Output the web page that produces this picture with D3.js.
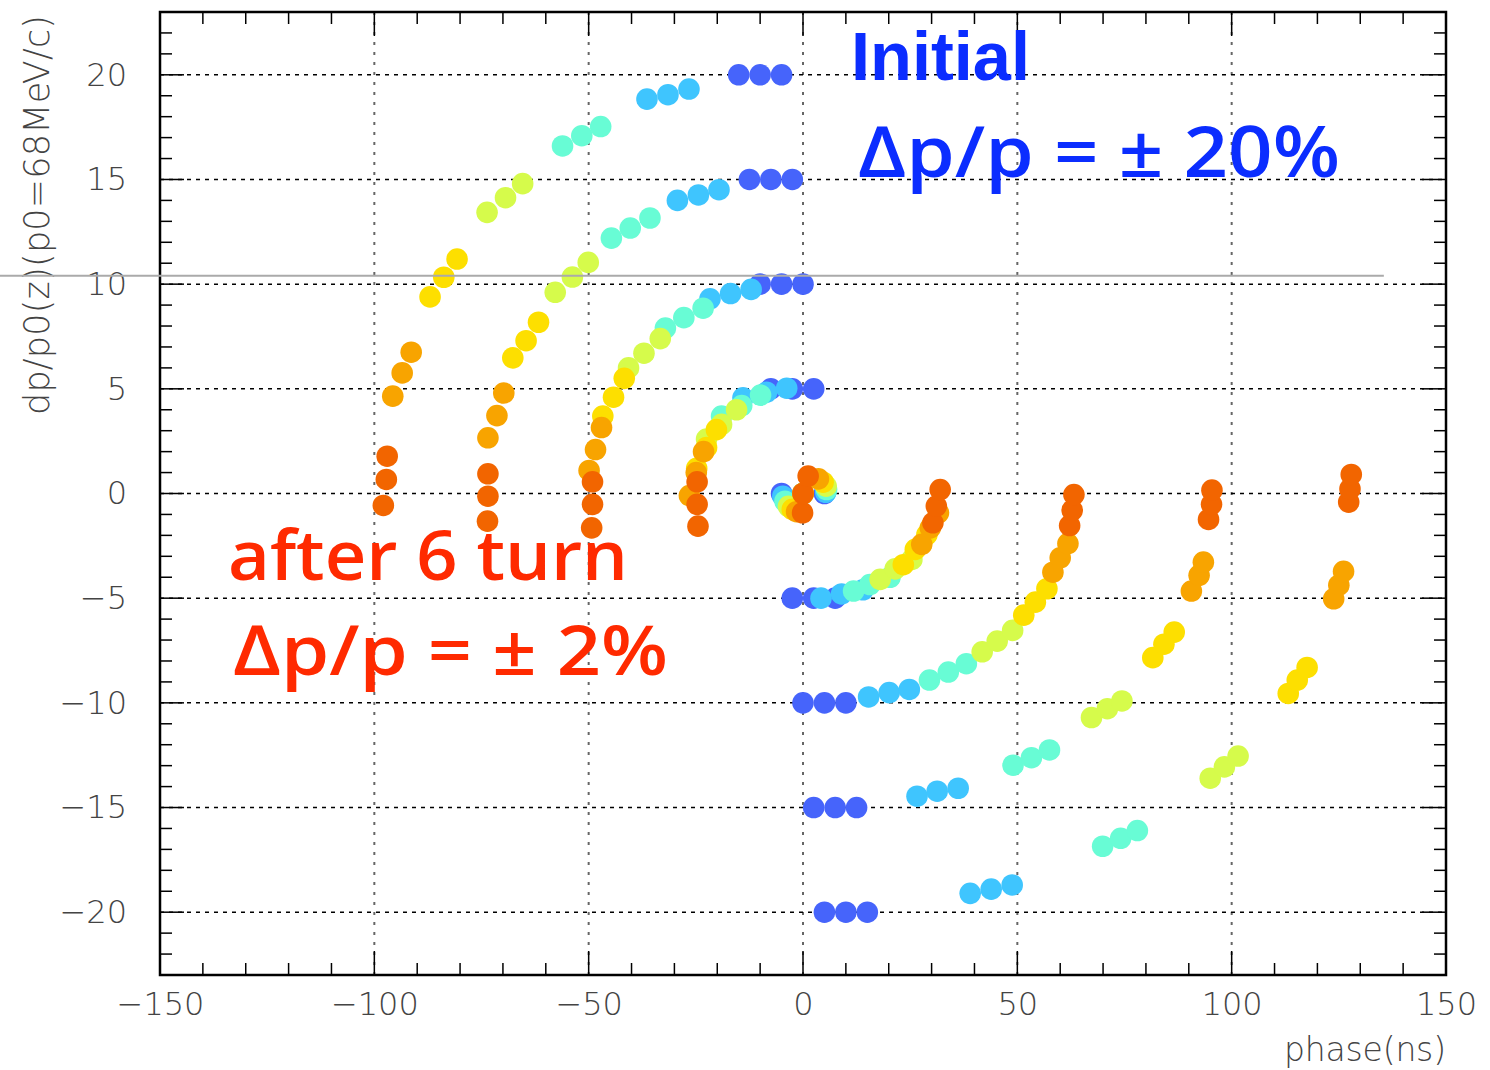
<!DOCTYPE html>
<html>
<head>
<meta charset="utf-8">
<script src="https://cdn.jsdelivr.net/npm/d3@7"></script>
<style>
  body { margin: 0; background: #fff; }
  svg { display: block; }
</style>
</head>
<body>
<script>
// phase (ns), dp/p (%) of the 27 test particles, one array per turn
var turn0 = [[-15,20],[-10,20],[-5,20],[-12.5,15],[-7.5,15],[-2.5,15],[-10,10],[-5,10],[0,10],
  [-7.5,5],[-2.5,5],[2.5,5],[-5,0],[0,0],[5,0],[-2.5,-5],[2.5,-5],[7.5,-5],
  [0,-10],[5,-10],[10,-10],[2.5,-15],[7.5,-15],[12.5,-15],[5,-20],[10,-20],[15,-20]];
var turn1 = [[-36.4,18.84],[-31.5,19.05],[-26.6,19.32],[-29.3,14.0],[-24.4,14.26],[-19.6,14.51],
  [-21.7,9.3],[-16.9,9.55],[-12.1,9.75],[-14.0,4.57],[-8.5,4.84],[-3.8,5.03],
  [-4.7,-0.13],[0,0],[5.3,0.06],[4.2,-5.0],[9.0,-4.8],[14.0,-4.6],
  [15.3,-9.72],[20.1,-9.51],[24.8,-9.36],[26.6,-14.46],[31.3,-14.22],[36.2,-14.08],
  [39.0,-19.1],[43.9,-18.9],[48.8,-18.7]];
var turn2 = [[-56.1,16.6],[-51.6,17.09],[-47.2,17.53],[-44.7,12.2],[-40.3,12.68],[-35.7,13.16],
  [-32.1,7.9],[-27.8,8.4],[-23.3,8.85],[-19.0,3.7],[-14.3,4.2],[-9.9,4.7],
  [-4.2,-0.37],[0,0],[5.5,0.19],[11.8,-4.66],[15.6,-4.35],[20.3,-4.0],
  [29.5,-8.91],[33.9,-8.53],[38.1,-8.13],[49.0,-12.98],[53.3,-12.62],[57.5,-12.25],
  [69.9,-16.85],[74.1,-16.47],[78.0,-16.1]];
var turn3 = [[-73.7,13.43],[-69.4,14.13],[-65.4,14.8],[-57.8,9.61],[-53.8,10.34],[-50.1,11.04],
  [-40.7,6.0],[-37.1,6.7],[-33.3,7.4],[-22.5,2.6],[-19.0,3.3],[-15.5,4.0],
  [-3.4,-0.61],[0,0],[5.4,0.35],[18.0,-4.1],[21.5,-3.6],[25.4,-3.15],
  [41.8,-7.56],[45.3,-7.05],[48.9,-6.54],[67.3,-10.7],[71.0,-10.28],[74.4,-9.91],
  [95.0,-13.6],[98.3,-13.06],[101.5,-12.54]];
var turn4 = [[-87.0,9.39],[-83.8,10.33],[-80.7,11.2],[-67.7,6.48],[-64.6,7.3],[-61.7,8.18],
  [-46.7,3.7],[-44.2,4.6],[-41.7,5.5],[-24.8,1.2],[-22.5,2.2],[-20.2,3.05],
  [-2.5,-0.76],[0,0],[4.7,0.54],[23.4,-3.4],[26.2,-2.67],[28.9,-1.96],
  [51.5,-5.81],[54.2,-5.19],[56.9,-4.55],[81.6,-7.84],[84.2,-7.2],[86.6,-6.62],
  [113.2,-9.55],[115.3,-8.91],[117.6,-8.31]];
var turn5 = [[-95.7,4.65],[-93.5,5.76],[-91.4,6.75],[-73.5,2.66],[-71.4,3.72],[-69.8,4.8],
  [-49.9,1.1],[-48.4,2.1],[-47.0,3.15],[-26.5,-0.1],[-24.9,1.0],[-23.2,2.0],
  [-1.5,-0.87],[0,0],[3.6,0.7],[27.7,-2.43],[29.7,-1.64],[31.6,-0.92],
  [58.3,-3.76],[60.0,-3.07],[61.8,-2.39],[90.6,-4.66],[92.4,-3.91],[93.4,-3.28],
  [123.8,-5.03],[125.0,-4.38],[126.1,-3.72]];
var turn6 = [[-97.9,-0.57],[-97.2,0.67],[-97.0,1.78],[-73.6,-1.32],[-73.5,-0.13],[-73.5,0.94],
  [-49.3,-1.64],[-49.1,-0.52],[-49.1,0.56],[-24.5,-1.56],[-24.7,-0.52],[-24.7,0.56],
  [-0.1,-0.92],[0,0],[1.2,0.83],[30.3,-1.4],[31.1,-0.6],[32.0,0.19],
  [62.2,-1.53],[62.8,-0.8],[63.2,-0.05],[94.6,-1.24],[95.3,-0.52],[95.4,0.16],
  [127.3,-0.41],[127.6,0.22],[127.9,0.91]];

var turns = [turn0, turn1, turn2, turn3, turn4, turn5, turn6];
var turnColors = ["#4664fb", "#3fc5fe", "#68fcd5", "#d6fb4b", "#fddf00", "#f8a400", "#f26500"];

var xTicks = [-150, -100, -50, 0, 50, 100, 150];
var yTicks = [-20, -15, -10, -5, 0, 5, 10, 15, 20];

var W = 1490, H = 1070;
var margin = {top: 12, right: 44, bottom: 95, left: 160};
var width = W - margin.left - margin.right;
var height = H - margin.top - margin.bottom;

var x = d3.scaleLinear().domain([-150, 150]).range([0, width]);
var y = d3.scaleLinear().domain([-23, 23]).range([height, 0]);

var svg = d3.select("body").append("svg")
    .attr("width", W)
    .attr("height", H);

var g = svg.append("g").attr("transform", "translate(" + margin.left + "," + margin.top + ")");

var labelFont = "'DejaVu Sans', sans-serif";

// grid
g.selectAll(".vgrid")
    .data(xTicks.filter(function(d){ return d > -150 && d < 150; }))
    .enter().append("line")
    .attr("x1", function(d){ return x(d); })
    .attr("x2", function(d){ return x(d); })
    .attr("y1", 0).attr("y2", height)
    .attr("stroke", "#666").attr("stroke-width", 2)
    .attr("stroke-dasharray", "3,7");

g.selectAll(".hgrid")
    .data(yTicks)
    .enter().append("line")
    .attr("x1", 0).attr("x2", width)
    .attr("y1", function(d){ return y(d); })
    .attr("y2", function(d){ return y(d); })
    .attr("stroke", "#000").attr("stroke-width", 1.5)
    .attr("stroke-dasharray", "4,5");

// ticks on all four sides
var xMinor = d3.range(-150, 151, 10);
var yMinor = d3.range(-23, 24, 1);

function tickLen(major) { return major ? 24 : 12; }

var tickG = g.append("g").attr("stroke", "#000").attr("stroke-width", 1.5);
xMinor.forEach(function(d){
    var L = tickLen(d % 50 === 0);
    tickG.append("line").attr("x1", x(d)).attr("x2", x(d)).attr("y1", height).attr("y2", height - L);
    tickG.append("line").attr("x1", x(d)).attr("x2", x(d)).attr("y1", 0).attr("y2", L);
});
yMinor.forEach(function(d){
    var L = tickLen(d % 5 === 0);
    tickG.append("line").attr("y1", y(d)).attr("y2", y(d)).attr("x1", 0).attr("x2", L);
    tickG.append("line").attr("y1", y(d)).attr("y2", y(d)).attr("x1", width).attr("x2", width - L);
});

var xAxis = d3.axisBottom(x).tickValues(xTicks).tickSize(0).tickPadding(17);
var yAxis = d3.axisLeft(y).tickValues(yTicks).tickSize(0).tickPadding(33);

var xa = g.append("g").attr("transform", "translate(0," + height + ")").call(xAxis);
var ya = g.append("g").call(yAxis);
[xa, ya].forEach(function(a){
    a.select(".domain").remove();
    a.selectAll("text")
        .attr("font-family", labelFont)
        .attr("font-weight", 200)
        .attr("font-size", 32)
        .attr("fill", "#444");
});

// frame
g.append("rect")
    .attr("x", 0).attr("y", 0)
    .attr("width", width).attr("height", height)
    .attr("fill", "none").attr("stroke", "#000").attr("stroke-width", 2.5);

// axis titles
svg.append("text")
    .attr("x", margin.left + width)
    .attr("y", 1061)
    .attr("text-anchor", "end")
    .attr("font-family", labelFont).attr("font-weight", 200)
    .attr("font-size", 33).attr("fill", "#444")
    .attr("textLength", 162).attr("lengthAdjust", "spacing")
    .text("phase(ns)");

svg.append("text")
    .attr("transform", "translate(49,415) rotate(-90)")
    .attr("font-family", labelFont).attr("font-weight", 200)
    .attr("font-size", 35).attr("fill", "#444")
    .attr("textLength", 400).attr("lengthAdjust", "spacing")
    .text("dp/p0(z)(p0=68MeV/c)");

// stray grey rule across the page
svg.append("line")
    .attr("x1", 0).attr("x2", margin.left + x(135.5))
    .attr("y1", margin.top + y(10.4)).attr("y2", margin.top + y(10.4))
    .attr("stroke", "#aaa").attr("stroke-width", 2);

// particles, later turns drawn on top
turns.forEach(function(pts, i){
    g.append("g").selectAll("circle")
        .data(pts)
        .enter().append("circle")
        .attr("cx", function(d){ return x(d[0]); })
        .attr("cy", function(d){ return y(d[1]); })
        .attr("r", 10.8)
        .attr("fill", turnColors[i]);
});

// annotations
function note(txt, px, py, size, weight, color, len, family) {
    svg.append("text")
        .attr("x", px).attr("y", py)
        .attr("font-family", family)
        .attr("font-size", size)
        .attr("font-weight", weight)
        .attr("fill", color)
        .attr("textLength", len)
        .attr("lengthAdjust", "spacingAndGlyphs")
        .text(txt);
}
var boldFont = "'Liberation Sans', Arial, sans-serif";
var midFont = "'Open Sans', 'Noto Sans', sans-serif";
note("Initial", 851, 80, 68, 700, "#0b2dff", 179, boldFont);
note("\u0394p/p = \u00b1 20%", 858, 177, 70, 600, "#0b2dff", 482, midFont);
note("after 6 turn", 228, 580, 68, 600, "#ff2a00", 400, midFont);
note("\u0394p/p = \u00b1 2%", 233, 675, 68, 600, "#ff2a00", 435, midFont);
</script>
</body>
</html>
